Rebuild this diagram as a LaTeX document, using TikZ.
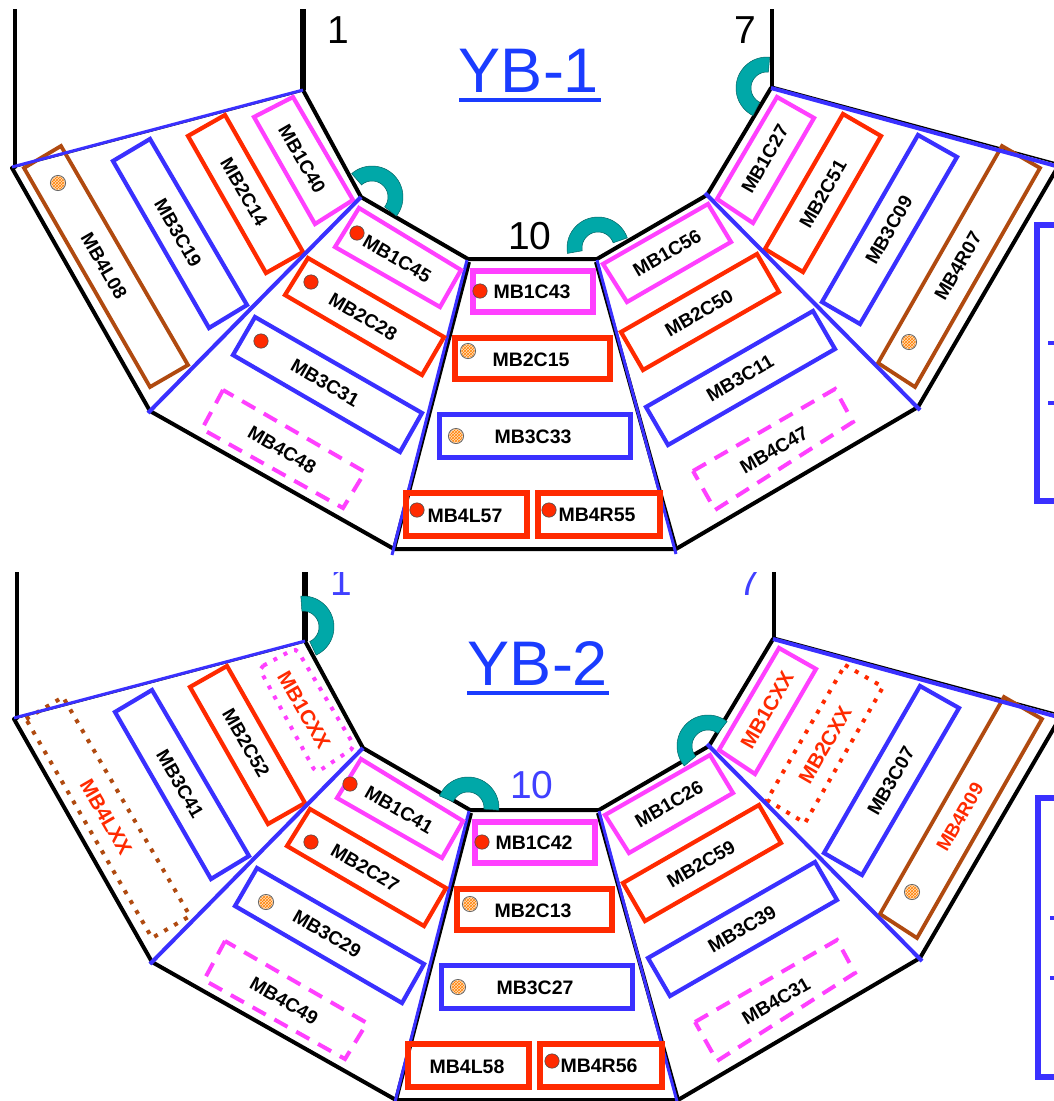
\documentclass[tikz,border=0pt]{standalone}
\usepackage{fontspec}
\setmainfont{Liberation Sans}
\usetikzlibrary{patterns}
\definecolor{cmag}{HTML}{FF40FF}
\definecolor{cred}{HTML}{FF2A00}
\definecolor{cblu}{HTML}{3A30FF}
\definecolor{cbrn}{HTML}{B04A10}
\definecolor{cteal}{HTML}{00A8A8}
\definecolor{ctitle}{HTML}{1A3CFF}
\definecolor{cnum}{HTML}{4040FF}
\tikzset{
  blk/.style={draw=black,line width=4pt,line cap=round},
  spoke/.style={draw=cblu,line width=4pt},
  magbox/.style={draw=cmag,line width=4.2pt},
  redbox/.style={draw=cred,line width=4.2pt},
  blubox/.style={draw=cblu,line width=4.2pt},
  brnbox/.style={draw=cbrn,line width=3.8pt},
  magdash/.style={draw=cmag,line width=4pt,dash pattern=on 15pt off 10pt},
  magdot/.style={draw=cmag,line width=4pt,dash pattern=on 4pt off 7.5pt,rounded corners=5pt},
  reddot/.style={draw=cred,line width=4pt,dash pattern=on 4pt off 7.5pt},
  brndot/.style={draw=cbrn,line width=4pt,dash pattern=on 4pt off 7.5pt},
  lab/.style={inner sep=0pt,font=\fontsize{19}{20}\selectfont\bfseries},
  rlab/.style={inner sep=0pt,font=\fontsize{20.5}{21}\selectfont\bfseries},
  ulab/.style={inner sep=0pt,font=\fontsize{19.5}{20}\selectfont\bfseries},
  num/.style={inner sep=0pt,anchor=base,font=\fontsize{39}{40}\selectfont},
  ttl/.style={inner sep=0pt,anchor=base,text=ctitle,font=\fontsize{63}{65}\selectfont},
}
\newcommand{\Poly}[5]{\draw[#1] (#2) -- (#3) -- (#4) -- (#5) -- cycle;}
\newcommand{\tarc}[4]{\filldraw[fill=cteal,draw=cteal!60!black,line width=.5pt]
  plot[domain=#3:#4,samples=30] ({#1+31*cos(\x)},{#2-31*sin(\x)})
  -- plot[domain=#4:#3,samples=30] ({#1+16*cos(\x)},{#2-16*sin(\x)}) -- cycle;}
\newcommand{\rdot}[2]{\filldraw[fill=cred,draw=black!70,line width=.6pt] (#1,#2) circle[radius=7.2pt];}
\newcommand{\odt}[2]{\filldraw[fill=orange!25,draw=black!60,line width=.8pt] (#1,#2) circle[radius=7.6pt];
  \fill[pattern=crosshatch,pattern color=orange] (#1,#2) circle[radius=6.6pt];}
\newcommand{\mframe}{%
  \draw[blk] (15,-20) -- (15,167);
  \draw[draw=black,line width=5.5pt] (303,-20) -- (303,90);
  \draw[blk] (772,-20) -- (772,88);
  \draw[blk,line join=miter] (303,90) -- (361,197) -- (468,259) -- (597,259) -- (707,195) -- (771,88);
  \draw[blk] (12,168) -- (150,411) -- (394,549) -- (676,549) -- (918,407) -- (1056,170);
  \draw[black,line width=1.5pt] (771,86) -- (1056,163);
  \draw[black,line width=4pt] (469,262) -- (394,549);
  \draw[black,line width=4pt] (596,262) -- (676,549);
  \draw[black,line width=1.2pt] (12,168) -- (303,91);
  \draw[draw=cblu,line width=3pt] (467,260) -- (392,555);
  \draw[draw=cblu,line width=3pt] (597,260) -- (676,554);
}
\newcommand{\bluelines}{%
  \draw[draw=cblu,line width=3pt] (12,167) -- (303,90);
  \draw[spoke] (771,88) -- (1056,166);
  \draw[spoke] (361,197) -- (148,413);
  \draw[spoke] (705,193) -- (920,410);
}
\newcommand{\sharedboxes}{%
  \Poly{redbox}{188,136}{225,115}{303,252}{266,273}
  \Poly{blubox}{113,161}{150,139}{247,305}{209,328}
  \Poly{magbox}{335,247}{359,208}{461,270}{440,307}
  \Poly{redbox}{308,258}{444,337}{422,375}{285,295}
  \Poly{blubox}{255,317}{233,355}{400,452}{422,413}
  \Poly{magdash}{223,390}{202,429}{343,508}{365,472}
  \draw[draw=cmag,line width=5.5pt] (473,271) rectangle (593,312);
  \draw[draw=cred,line width=5.5pt] (455,338) rectangle (610,379);
  \draw[draw=cblu,line width=5pt] (439,414) rectangle (630,457);
  \draw[draw=cred,line width=5.5pt] (406,493) rectangle (527,536);
  \draw[draw=cred,line width=5.5pt] (538,493) rectangle (660,536);
  \Poly{magbox}{603,264}{708,204}{731,242}{627,302}
  \Poly{redbox}{621,332}{757,254}{779,292}{643,370}
  \Poly{blubox}{646,407}{813,311}{835,349}{668,445}
  \Poly{magdash}{693,471}{835,389}{853,422}{715,510}
  \Poly{magbox}{777,97}{814,118}{753,223}{717,199}
  \Poly{blubox}{918,135}{957,157}{860,324}{822,302}
  \Poly{brnbox}{1002,146}{1040,168}{915,387}{878,363}
}
\newcommand{\Lb}[6][black]{\node[#2,text=#1,rotate=#6] (#3) at (#4,#5) {#3};}
\begin{document}
\begin{tikzpicture}[x=1pt,y=-1pt]
\useasboundingbox (0,0) rectangle (1054,1101);
\fill[white] (0,0) rectangle (1054,1101);
% ---------- YB-1
\begin{scope}
\clip (0,9) rectangle (1054,556);
\mframe
\sharedboxes
\Poly{magbox}{254,117}{293,97}{353,200}{315,224}
\Poly{brnbox}{24,168}{61,146}{188,365}{150,387}
\Poly{redbox}{843,114}{881,136}{803,272}{765,249}
\bluelines
\tarc{372}{197}{131}{-38}
\tarc{598}{248}{190}{19}
\tarc{767}{88}{85}{243}
\rdot{357}{233}\rdot{311}{282}\rdot{261}{341}\rdot{480}{291}\rdot{417}{510}\rdot{549}{510}
\odt{58}{183}\odt{468}{351}\odt{456}{436}\odt{909}{342}
\Lb{lab}{MB1C40}{302}{159}{-60}
\Lb{lab}{MB2C14}{244}{192}{-60}
\Lb{lab}{MB3C19}{178}{233}{-60}
\Lb{lab}{MB4L08}{104}{266}{-60}
\Lb{lab}{MB1C45}{397}{259}{-30}
\Lb{lab}{MB2C28}{363}{317}{-30}
\Lb{lab}{MB3C31}{325}{383}{-30}
\Lb{lab}{MB4C48}{282}{450}{-30}
\Lb{ulab}{MB1C43}{532}{292}{0}
\Lb{ulab}{MB2C15}{531}{360}{0}
\Lb{ulab}{MB3C33}{533}{437}{0}
\Lb{ulab}{MB4L57}{465}{516}{0}
\Lb{ulab}{MB4R55}{597}{515}{0}
\Lb{lab}{MB1C56}{667}{253}{30}
\Lb{lab}{MB2C50}{699}{313}{30}
\Lb{lab}{MB3C11}{740}{378}{30}
\Lb{lab}{MB4C47}{774}{450}{30}
\Lb{lab}{MB1C27}{765}{159}{60}
\Lb{lab}{MB2C51}{823}{194}{60}
\Lb{lab}{MB3C09}{889}{230}{60}
\Lb{lab}{MB4R07}{958}{266}{60}
\node[num] (n1) at (338,43) {1};
\node[num] (n7) at (745,43) {7};
\node[num] (n10) at (530,249) {10};
\node[ttl] (t1) at (529,92) {YB-1};
\draw[ctitle,line width=4pt] (459,100) -- (601,100);
\draw[cblu,line width=6pt] (1058,225) -- (1036.5,225) -- (1036.5,501) -- (1058,501);
\draw[cblu,line width=4.5pt] (1048,343) -- (1058,343);
\draw[cblu,line width=4.5pt] (1048,403) -- (1058,403);
\end{scope}
% ---------- YB-2
\begin{scope}
\clip (0,572) rectangle (1054,1101);
\begin{scope}[shift={(2,551)}]
\mframe
\sharedboxes
\Poly{magdot}{257,117}{294,97}{353,196}{314,222}
\Poly{brndot}{24,168}{61,146}{188,365}{150,387}
\Poly{reddot}{843,114}{881,136}{803,272}{765,249}
\bluelines
\Lb[cred]{rlab}{MB1CXX}{302}{159}{-60}
\Lb{lab}{MB2C52}{244}{192}{-60}
\Lb{lab}{MB3C41}{178}{233}{-60}
\Lb[cred]{rlab}{MB4LXX}{104}{266}{-60}
\Lb{lab}{MB1C41}{397}{259}{-30}
\Lb{lab}{MB2C27}{363}{317}{-30}
\Lb{lab}{MB3C29}{325}{383}{-30}
\Lb{lab}{MB4C49}{282}{450}{-30}
\Lb{ulab}{MB1C42}{532}{292}{0}
\Lb{ulab}{MB2C13}{531}{360}{0}
\Lb{ulab}{MB3C27}{533}{437}{0}
\Lb{ulab}{MB4L58}{465}{516}{0}
\Lb{ulab}{MB4R56}{597}{515}{0}
\Lb{lab}{MB1C26}{667}{253}{30}
\Lb{lab}{MB2C59}{699}{313}{30}
\Lb{lab}{MB3C39}{740}{378}{30}
\Lb{lab}{MB4C31}{774}{450}{30}
\node[rlab,text=cred,rotate=60] (MB1CXXr) at (765,159) {MB1CXX};
\Lb[cred]{rlab}{MB2CXX}{823}{194}{60}
\Lb{lab}{MB3C07}{889}{230}{60}
\Lb[cred]{lab}{MB4R09}{958}{266}{60}
\end{scope}
\tarc{303}{627}{94}{-65}
\tarc{468}{808}{157}{-4}
\tarc{708}{746}{52}{220}
\rdot{350}{784}\rdot{311}{842}\rdot{482}{842}\rdot{552}{1061}
\odt{266}{902}\odt{470}{904}\odt{458}{987}\odt{912}{892}
\node[num,text=cnum] (m1) at (341,595) {1};
\node[num,text=cnum] (m7) at (749,595) {7};
\node[num,text=cnum] (m10) at (532,798) {10};
\node[ttl] (t2) at (538,685) {YB-2};
\draw[ctitle,line width=4pt] (467,693) -- (609,693);
\draw[cblu,line width=6pt] (1058,798) -- (1038,798) -- (1038,1077) -- (1058,1077);
\draw[cblu,line width=4.5pt] (1050,918) -- (1058,918);
\draw[cblu,line width=4.5pt] (1050,978) -- (1058,978);
\end{scope}
\end{tikzpicture}
\end{document}
